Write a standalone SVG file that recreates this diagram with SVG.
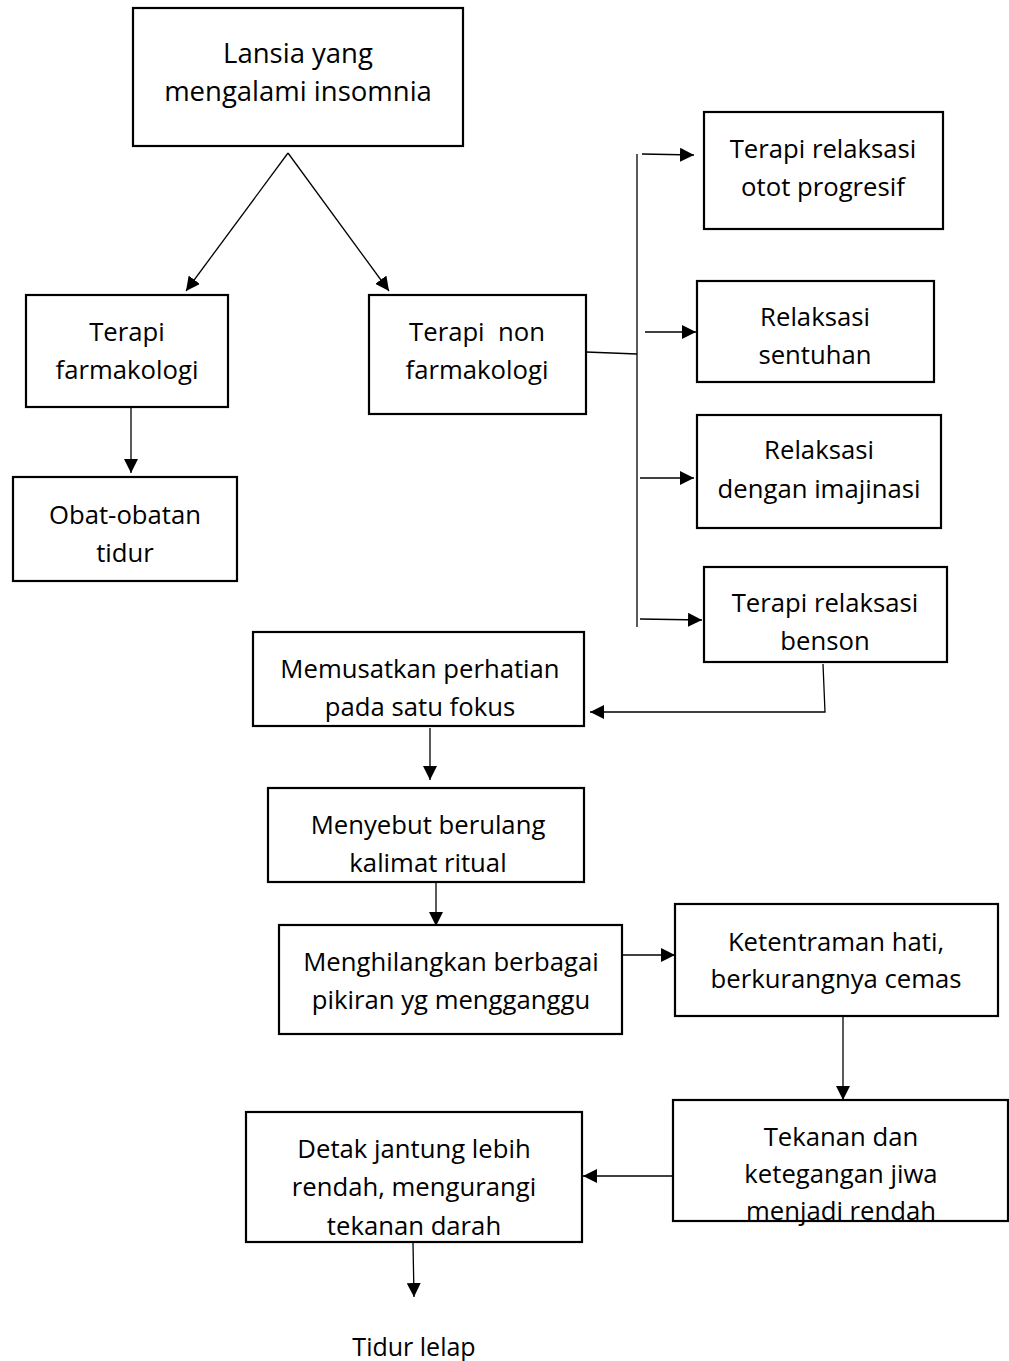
<svg xmlns="http://www.w3.org/2000/svg" width="1009" height="1361" viewBox="0 0 1009 1361">
<defs>
<marker id="ah" viewBox="0 0 10 10" refX="10" refY="5" markerWidth="14" markerHeight="14" markerUnits="userSpaceOnUse" orient="auto">
<path d="M0,0 L10,5 L0,10 Z" fill="#000"/>
</marker>
</defs>
<style>
rect.box { fill: #fff; stroke: #000; stroke-width: 2.2; }
text { font-family: "Open Sans", "Liberation Sans", sans-serif; font-size: 25.7px; fill: #000; text-anchor: middle; }
text.big { font-size: 27.5px; }
text.plain { font-size: 25px; }
.conn line, .conn polyline { stroke: #000; stroke-width: 1.3; fill: none; }
</style>
<rect width="1009" height="1361" fill="#fff"/>

<g class="conn" id="connectors">
<line x1="288" y1="153" x2="186" y2="291" marker-end="url(#ah)"/>
<line x1="288" y1="153" x2="389" y2="291" marker-end="url(#ah)"/>
<line x1="131" y1="404" x2="131" y2="473" marker-end="url(#ah)"/>
<line x1="586" y1="352" x2="637" y2="354"/>
<line x1="637" y1="154" x2="637" y2="627"/>
<line x1="642" y1="154" x2="694" y2="155" marker-end="url(#ah)"/>
<line x1="645" y1="332" x2="696" y2="332" marker-end="url(#ah)"/>
<line x1="640" y1="478" x2="694" y2="478" marker-end="url(#ah)"/>
<line x1="640" y1="619" x2="702" y2="620" marker-end="url(#ah)"/>
<polyline points="823,664 825,712 590,712" marker-end="url(#ah)"/>
<line x1="430" y1="728" x2="430" y2="780" marker-end="url(#ah)"/>
<line x1="436" y1="883" x2="436" y2="926" marker-end="url(#ah)"/>
<line x1="619" y1="955" x2="675" y2="955" marker-end="url(#ah)"/>
<line x1="843" y1="1013" x2="843" y2="1100" marker-end="url(#ah)"/>
<line x1="676" y1="1176" x2="583" y2="1176" marker-end="url(#ah)"/>
<line x1="413" y1="1243" x2="414" y2="1297" marker-end="url(#ah)"/>
</g>

<g id="n-lansia">
<rect class="box" x="133" y="8" width="330" height="138"/>
<text class="big" x="298" y="63">Lansia yang</text>
<text class="big" x="298" y="101">mengalami insomnia</text>
</g>
<g id="n-farmakologi">
<rect class="box" x="26" y="295" width="202" height="112"/>
<text x="127" y="341">Terapi</text>
<text x="127" y="379">farmakologi</text>
</g>
<g id="n-obat">
<rect class="box" x="13" y="477" width="224" height="104"/>
<text x="125" y="524">Obat-obatan</text>
<text x="125" y="562">tidur</text>
</g>
<g id="n-nonfarmakologi">
<rect class="box" x="369" y="295" width="217" height="119"/>
<text x="477" y="341" xml:space="preserve">Terapi  non</text>
<text x="477" y="379">farmakologi</text>
</g>
<g id="n-progresif">
<rect class="box" x="704" y="112" width="239" height="117"/>
<text x="823" y="158">Terapi relaksasi</text>
<text x="823" y="196">otot progresif</text>
</g>
<g id="n-sentuhan">
<rect class="box" x="697" y="281" width="237" height="101"/>
<text x="815" y="326">Relaksasi</text>
<text x="815" y="364">sentuhan</text>
</g>
<g id="n-imajinasi">
<rect class="box" x="697" y="415" width="244" height="113"/>
<text x="819" y="459">Relaksasi</text>
<text x="819" y="498">dengan imajinasi</text>
</g>
<g id="n-benson">
<rect class="box" x="704" y="567" width="243" height="95"/>
<text x="825" y="612">Terapi relaksasi</text>
<text x="825" y="650">benson</text>
</g>
<g id="n-memusatkan">
<rect class="box" x="253" y="632" width="331" height="94"/>
<text x="420" y="678">Memusatkan perhatian</text>
<text x="420" y="716">pada satu fokus</text>
</g>
<g id="n-menyebut">
<rect class="box" x="268" y="788" width="316" height="94"/>
<text x="428" y="834">Menyebut berulang</text>
<text x="428" y="872">kalimat ritual</text>
</g>
<g id="n-menghilangkan">
<rect class="box" x="279" y="925" width="343" height="109"/>
<text x="451" y="971">Menghilangkan berbagai</text>
<text x="451" y="1009">pikiran yg mengganggu</text>
</g>
<g id="n-ketentraman">
<rect class="box" x="675" y="904" width="323" height="112"/>
<text x="836" y="951">Ketentraman hati,</text>
<text x="836" y="988">berkurangnya cemas</text>
</g>
<g id="n-tekanan">
<rect class="box" x="673" y="1100" width="335" height="121"/>
<text x="841" y="1146">Tekanan dan</text>
<text x="841" y="1183">ketegangan jiwa</text>
<text x="841" y="1220">menjadi rendah</text>
</g>
<g id="n-detak">
<rect class="box" x="246" y="1112" width="336" height="130"/>
<text x="414" y="1158">Detak jantung lebih</text>
<text x="414" y="1196">rendah, mengurangi</text>
<text x="414" y="1235">tekanan darah</text>
</g>
<g id="n-tidur">
<text class="plain" x="414" y="1356">Tidur lelap</text>
</g>
</svg>
